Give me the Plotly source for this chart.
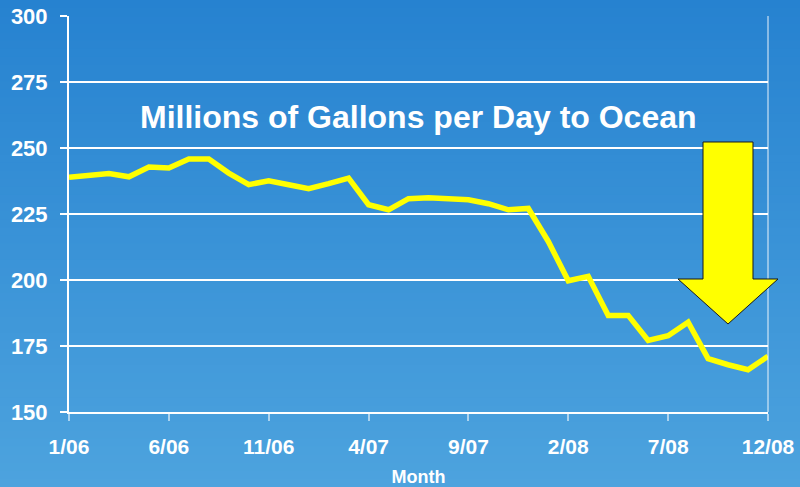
import plotly.graph_objects as go

# ---- data ----
months = list(range(36))  # 1/06 .. 12/08
values = [238.9, 239.5, 240.3, 239.1, 242.8, 242.4, 245.8, 245.8, 240.5, 236.1,
          237.6, 236.1, 234.6, 236.5, 238.6, 228.5, 226.6, 230.8, 231.2, 230.8,
          230.4, 228.9, 226.6, 227.1, 214.6, 199.7, 201.4, 186.6, 186.6, 177.1,
          178.9, 184.0, 170.2, 167.9, 166.0, 171.1]
tick_vals = [0, 5, 10, 15, 20, 25, 30, 35]
tick_text = ["1/06", "6/06", "11/06", "4/07", "9/07", "2/08", "7/08", "12/08"]
y_ticks = [150, 175, 200, 225, 250, 275, 300]

W, H = 800, 487
L, R, T, B = 69, 32, 16, 75
PW, PH = W - L - R, H - T - B


def px(xp):
    return (xp - L) / PW


def py(yp):
    return (H - B - yp) / PH


FONT = "Liberation Sans, Arial, sans-serif"

fig = go.Figure()
fig.add_trace(go.Scatter(x=months, y=values, mode="lines",
                         line=dict(color="#FFFF00", width=5.5),
                         hoverinfo="skip", showlegend=False))

shapes = []
# vertical gradient background
n = 60
top = (38, 130, 208)
bot = (77, 163, 222)
for i in range(n):
    f = (i + 0.5) / n
    c = tuple(int(round(top[k] + (bot[k] - top[k]) * f)) for k in range(3))
    y0p = H * i / n
    y1p = H * (i + 1) / n + 1
    shapes.append(dict(type="rect", xref="paper", yref="paper",
                       x0=px(-2), x1=px(W + 2), y0=py(y1p), y1=py(y0p),
                       fillcolor="rgb(%d,%d,%d)" % c, line=dict(width=0),
                       layer="below"))
# right light border line
shapes.append(dict(type="line", xref="paper", yref="paper",
                   x0=1, x1=1, y0=0, y1=1,
                   line=dict(color="rgba(255,255,255,0.45)", width=2),
                   layer="above"))
# arrow
pts = [(703, 142), (753, 142), (753, 279), (778, 279), (728, 324),
       (678, 279), (703, 279)]
path = "M " + " L ".join("%.5f,%.5f" % (px(a), py(b)) for a, b in pts) + " Z"
shapes.append(dict(type="path", xref="paper", yref="paper", path=path,
                   fillcolor="#FFFF00", line=dict(color="#1a1a1a", width=1),
                   layer="above"))

fig.update_layout(
    width=W, height=H,
    margin=dict(l=L, r=R, t=T, b=B, pad=0, autoexpand=False),
    paper_bgcolor="rgb(60,148,216)",
    plot_bgcolor="rgba(0,0,0,0)",
    shapes=shapes,
    showlegend=False,
    font=dict(family=FONT, color="white"),
    xaxis=dict(range=[0, 35], tickvals=tick_vals, ticktext=tick_text,
               automargin=False,
               showgrid=False, zeroline=False,
               showline=True, linecolor="white", linewidth=2,
               ticks="outside", ticklen=7, tickwidth=2,
               tickcolor="rgba(255,255,255,0.55)",
               tickfont=dict(size=21, family=FONT, color="white", weight="bold"),
               ticklabelstandoff=8,
               title=dict(text="Month", standoff=13,
                          font=dict(size=18, family=FONT, color="white", weight="bold"))),
    yaxis=dict(range=[150, 300], tickvals=y_ticks,
               automargin=False,
               showgrid=True, gridcolor="white", gridwidth=1.5,
               zeroline=False,
               showline=True, linecolor="white", linewidth=2,
               ticks="outside", ticklen=7, tickwidth=1.5, tickcolor="white",
               tickfont=dict(size=22, family=FONT, color="white", weight="bold"),
               ticklabelstandoff=8),
    annotations=[dict(text="Millions of Gallons per Day to Ocean",
                      xref="paper", yref="paper", x=px(418), y=py(117),
                      xanchor="center", yanchor="middle", showarrow=False,
                      font=dict(size=32, family=FONT, color="white", weight="bold"))],
)

fig.write_html("out.html", config={"displayModeBar": False},
               post_script="document.body.style.margin='0';document.body.style.padding='0';")
